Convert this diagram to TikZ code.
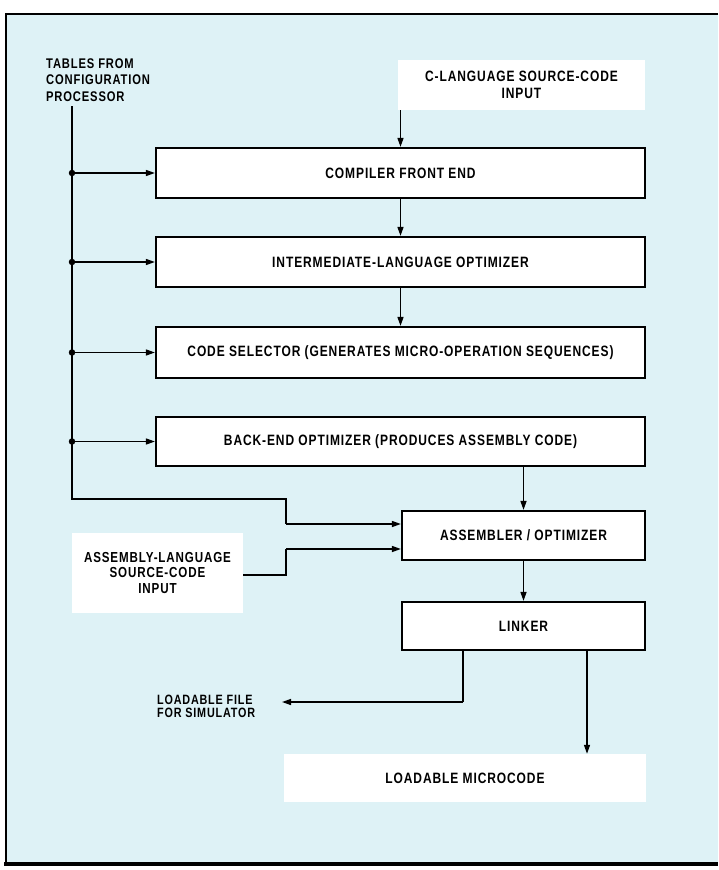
\documentclass[tikz,border=0pt]{standalone}
\usepackage{fontspec}
\setmainfont{Liberation Sans}
\newfontfamily\labfont{Liberation Sans}[FakeStretch=0.8, LetterSpace=6]
\usetikzlibrary{arrows.meta}
\definecolor{bgblue}{RGB}{222,242,246}
\begin{document}
\begin{tikzpicture}[x=1pt,y=-1pt,
  lbl/.style={font=\labfont\fontsize{15}{16.5}\selectfont\bfseries, inner sep=0pt},
  box/.style={lbl, draw=black, line width=2.2pt, fill=white},
  wbox/.style={lbl, fill=white, align=center},
  wire/.style={line width=1.4pt, draw=black},
  arr/.style={wire, -{Triangle[length=9pt,width=6pt]}},
  dot/.style={circle, fill=black, inner sep=0pt, minimum size=6.5pt}
]
\useasboundingbox (0,0) rectangle (718,870);
\fill[white] (0,0) rectangle (718,870);
\fill[bgblue] (6,14) rectangle (718,864);
\draw[line width=2pt] (718,14) -- (6,14) -- (6,864);
\draw[line width=4pt] (4,864) -- (718,864);

% main boxes
\node[box, minimum width=489pt, minimum height=50pt] (fe) at (400.5,173) {COMPILER FRONT END};
\node[box, minimum width=489pt, minimum height=50pt] (il) at (400.5,262) {INTERMEDIATE-LANGUAGE OPTIMIZER};
\node[box, minimum width=489pt, minimum height=51pt] (cs) at (400.5,352.5) {CODE SELECTOR (GENERATES MICRO-OPERATION SEQUENCES)};
\node[box, minimum width=489pt, minimum height=49pt] (be) at (400.5,441.5) {BACK-END OPTIMIZER (PRODUCES ASSEMBLY CODE)};
\node[box, minimum width=243pt, minimum height=49pt] (asm) at (523.5,535.5) {ASSEMBLER / OPTIMIZER};
\node[box, minimum width=243pt, minimum height=48pt] (lnk) at (523.5,626) {LINKER};

% white label areas
\node[wbox, minimum width=247pt, minimum height=50pt] (cin) at (521.5,85) {C-LANGUAGE SOURCE-CODE\\INPUT};
\node[wbox, minimum width=171pt, minimum height=80pt, font=\labfont\fontsize{14.5}{15.5}\selectfont\bfseries] (asin) at (157.5,573) {ASSEMBLY-LANGUAGE\\SOURCE-CODE\\INPUT};
\node[wbox, minimum width=362pt, minimum height=48pt] (mc) at (465,778) {LOADABLE MICROCODE};

% plain labels
\node[lbl, align=left, anchor=west, font=\labfont\fontsize{14}{16.5}\selectfont\bfseries] (tbl) at (46,80) {TABLES FROM\\CONFIGURATION\\PROCESSOR};
\node[lbl, align=left, anchor=west, font=\labfont\fontsize{13.5}{13}\selectfont\bfseries] (lf) at (157,706) {LOADABLE FILE\\FOR SIMULATOR};

% coordinates
\coordinate (t0) at (72,106);
\coordinate (tb) at (286,499);
\coordinate (a1) at ([yshift=11.5pt]asm.west);
\coordinate (a2) at ([yshift=-13.5pt]asm.west);
\coordinate (ab) at (286,575);
\coordinate (l1) at ([xshift=-60.5pt]lnk.south);
\coordinate (l2) at ([xshift=63.5pt]lnk.south);
\coordinate (lc) at (463,702);
\coordinate (lfend) at (282,702);

% main flow
\draw[arr] (cin.south -| fe.north) -- (fe.north);
\draw[arr] (fe.south) -- (il.north);
\draw[arr] (il.south) -- (cs.north);
\draw[arr] ([xshift=123pt]be.south) -- ([xshift=123pt]be.south |- asm.north);
\draw[arr] (asm.south) -- (lnk.north);

% tables bus
\draw[wire] (t0) -- (t0 |- tb) -- (tb) -- (tb |- a1);
\draw[arr] (tb |- a1) -- (a1);
\foreach \b in {fe,il,cs,be}{
  \draw[arr] (t0 |- \b.west) -- (\b.west);
  \node[dot] at (t0 |- \b.west) {};
}

% assembly input
\draw[wire] (asin.east |- ab) -- (ab) -- (ab |- a2);
\draw[arr] (ab |- a2) -- (a2);

% linker outputs
\draw[wire] (l1) -- (lc);
\draw[arr] (lc) -- (lfend);
\draw[arr] (l2) -- (l2 |- mc.north);
\end{tikzpicture}
\end{document}
